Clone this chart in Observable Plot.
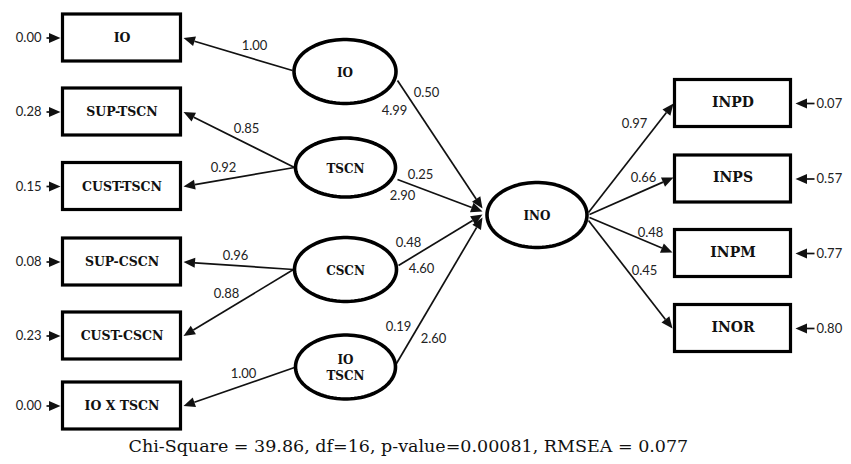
<!DOCTYPE html>
<html><head><meta charset="utf-8">
<script src="https://cdn.jsdelivr.net/npm/d3@7"></script>
<script src="https://cdn.jsdelivr.net/npm/@observablehq/plot@0.6"></script>
<style>body{margin:0;background:#fff;} #chart{width:851px;height:464px;}</style>
</head><body><div id="chart"></div>
<script>
// ---------- data ----------
const indicators = ["IO", "SUP-TSCN", "CUST-TSCN", "SUP-CSCN", "CUST-CSCN", "IO X TSCN"];
const indicatorErrors = ["0.00", "0.28", "0.15", "0.08", "0.23", "0.00"];
const loadings = ["1.00", "0.85", "0.92", "0.96", "0.88", "1.00"];
const loadingFrom = [0, 1, 1, 2, 2, 3];            // which latent each indicator belongs to
const latents = ["IO", "TSCN", "CSCN", "IO\nTSCN"];
const pathCoef = ["0.50", "0.25", "0.48", "0.19"];
const pathT = ["4.99", "2.90", "4.60", "2.60"];
const outcomeLatent = "INO";
const outcomes = ["INPD", "INPS", "INPM", "INOR"];
const outcomeLoadings = ["0.97", "0.66", "0.48", "0.45"];
const outcomeErrors = ["0.07", "0.57", "0.77", "0.80"];
const fitText = "Chi-Square = 39.86, df=16, p-value=0.00081, RMSEA = 0.077";

// ---------- layout (pixel space) ----------
const leftBoxY = [37.5, 111.5, 186, 261.5, 335.5, 405.5];
const leftBoxX = [62.5, 180.5];
const rightBoxY = [103, 178.5, 253, 328];
const rightBoxX = [674.5, 790.5];
const boxHalfH = 23.5;
const latentPos = [[344.5, 71, 51, 32], [345, 167, 50, 29.5], [345, 269, 51, 32], [345, 366.5, 50, 32]];
const inoPos = [536.5, 214.5, 50, 32.5];
const loadLabelPos = [[254, 45], [246, 128], [223, 167], [235, 255], [226, 293], [243, 373]];
const latentLeft = [[292, 70], [294, 167], [293, 269], [294, 367]];
const pathStart = [[397, 80], [397, 179], [398, 265], [396, 363]];
const pathEnd = [[482, 208], [482, 211], [482, 214], [482, 217]];
const pathCoefPos = [[426, 92], [420, 174], [408, 242], [398, 326]];
const pathTPos = [[394, 110], [402, 195], [421, 268], [433, 338]];
const outStart = [[588, 212], [589, 214], [589, 217], [588, 220]];
const outEnd = [[673, 103], [673, 177], [672, 252], [672, 328]];
const outLabelPos = [[634, 123], [643, 177], [650, 232], [644, 270]];
const HEAD_R = 5;

// custom filled arrow-head symbol: base centred on the origin, tip pointing up
const HEAD_L = 2.3, HEAD_W = 1.0;
const headSymbol = {
  draw(ctx, size) {
    const r = Math.sqrt(size / Math.PI);
    ctx.moveTo(0, -HEAD_L * r);
    ctx.lineTo(HEAD_W * r, 0);
    ctx.lineTo(-HEAD_W * r, 0);
    ctx.closePath();
  }
};

// ---------- derived tables ----------
const boxes = [
  ...indicators.map((t, i) => ({t, x1: leftBoxX[0], x2: leftBoxX[1], y1: leftBoxY[i] - boxHalfH, y2: leftBoxY[i] + boxHalfH, cx: (leftBoxX[0] + leftBoxX[1]) / 2, cy: leftBoxY[i], side: "L"})),
  ...outcomes.map((t, i) => ({t, x1: rightBoxX[0], x2: rightBoxX[1], y1: rightBoxY[i] - boxHalfH, y2: rightBoxY[i] + boxHalfH, cx: (rightBoxX[0] + rightBoxX[1]) / 2, cy: rightBoxY[i], side: "R"}))
];

const ellipses = [...latentPos.map((p, i) => ({id: "L" + i, p})), {id: "INO", p: inoPos}];
const ellipsePts = ellipses.flatMap(e => d3.range(0, 90).map(k => {
  const a = k / 90 * 2 * Math.PI;
  return {id: e.id, x: e.p[0] + e.p[2] * Math.cos(a), y: e.p[1] + e.p[3] * Math.sin(a)};
}));

const arrows = [];
indicators.forEach((t, i) => {
  const s = latentLeft[loadingFrom[i]];
  arrows.push({x1: s[0], y1: s[1], x2: leftBoxX[1] + 2.5, y2: leftBoxY[i]});
});
latents.forEach((t, i) => arrows.push({x1: pathStart[i][0], y1: pathStart[i][1], x2: pathEnd[i][0], y2: pathEnd[i][1]}));
outcomes.forEach((t, i) => arrows.push({x1: outStart[i][0], y1: outStart[i][1], x2: outEnd[i][0], y2: outEnd[i][1]}));
indicatorErrors.forEach((t, i) => arrows.push({x1: 46, y1: leftBoxY[i], x2: 60, y2: leftBoxY[i]}));
outcomeErrors.forEach((t, i) => arrows.push({x1: 814, y1: rightBoxY[i], x2: 795, y2: rightBoxY[i]}));

const heads = arrows.map(a => {
  const dx = a.x2 - a.x1, dy = a.y2 - a.y1, L = Math.hypot(dx, dy);
  const len = HEAD_L * HEAD_R;
  return {x: a.x2 - dx / L * len, y: a.y2 - dy / L * len, rotate: Math.atan2(dx, -dy) * 180 / Math.PI};
});
const links = arrows.map((a, i) => ({x1: a.x1, y1: a.y1, x2: heads[i].x, y2: heads[i].y}));

const numLabels = [
  ...loadings.map((t, i) => ({t, x: loadLabelPos[i][0], y: loadLabelPos[i][1]})),
  ...pathCoef.map((t, i) => ({t, x: pathCoefPos[i][0], y: pathCoefPos[i][1]})),
  ...pathT.map((t, i) => ({t, x: pathTPos[i][0], y: pathTPos[i][1]})),
  ...outcomeLoadings.map((t, i) => ({t, x: outLabelPos[i][0], y: outLabelPos[i][1]}))
];
const leftErr = indicatorErrors.map((t, i) => ({t, x: 41, y: leftBoxY[i]}));
const rightErr = outcomeErrors.map((t, i) => ({t, x: 816, y: rightBoxY[i]}));
const latentLabels = [...latents.map((t, i) => ({t, x: latentPos[i][0], y: latentPos[i][1]})), {t: outcomeLatent, x: inoPos[0], y: inoPos[1]}];

const serif = "'DejaVu Serif', serif";
const sans = "Lato, 'Open Sans', sans-serif";

const chart = Plot.plot({
  width: 851, height: 464, margin: 0,
  style: {background: "#fff"},
  x: {domain: [0, 851], range: [0, 851], axis: null},
  y: {domain: [0, 464], range: [0, 464], axis: null},
  marks: [
    Plot.link(links, {x1: "x1", y1: "y1", x2: "x2", y2: "y2", stroke: "#111", strokeWidth: 1.7}),
    Plot.dot(heads, {x: "x", y: "y", r: HEAD_R, rotate: "rotate", symbol: headSymbol, fill: "#111", stroke: "none"}),
    Plot.rect(boxes, {x1: "x1", x2: "x2", y1: "y1", y2: "y2", fill: "#fff", stroke: "#000", strokeWidth: 3.2}),
    Plot.line(ellipsePts, {x: "x", y: "y", z: "id", curve: "linear-closed", stroke: "#000", strokeWidth: 3.6}),
    Plot.text(boxes.filter(b => b.side === "L"), {x: "cx", y: "cy", text: "t", fontFamily: serif, fontWeight: "bold", fontSize: 12.5, fill: "#111"}),
    Plot.text(boxes.filter(b => b.side === "R"), {x: "cx", y: "cy", text: "t", fontFamily: serif, fontWeight: "bold", fontSize: 14, fill: "#111", dy: -1}),
    Plot.text(latentLabels, {x: "x", y: "y", text: "t", fontFamily: serif, fontWeight: "bold", fontSize: 12, lineHeight: 1.35, fill: "#111"}),
    Plot.text(numLabels, {x: "x", y: "y", text: "t", fontFamily: sans, fontSize: 13, fill: "#222"}),
    Plot.text(leftErr, {x: "x", y: "y", text: "t", textAnchor: "end", fontFamily: sans, fontSize: 13, fill: "#222"}),
    Plot.text(rightErr, {x: "x", y: "y", text: "t", textAnchor: "start", fontFamily: sans, fontSize: 13, fill: "#222"}),
    Plot.text([fitText], {x: 128, y: 446, text: d => d, textAnchor: "start", fontFamily: serif, fontSize: 17.5, fill: "#111"})
  ]
});
document.getElementById("chart").appendChild(chart);
</script></body></html>
